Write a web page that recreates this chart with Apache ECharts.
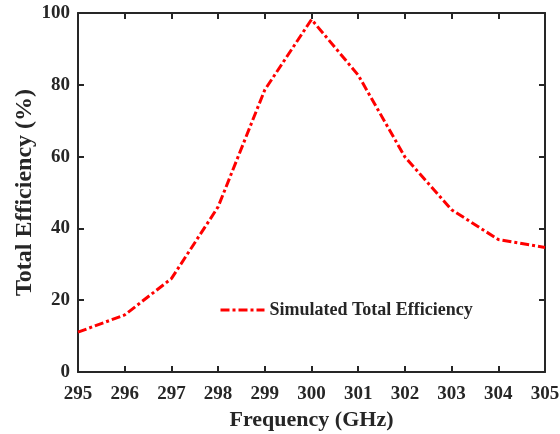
<!DOCTYPE html>
<html>
<head>
<meta charset="utf-8">
<script src="https://cdn.jsdelivr.net/npm/echarts@6/dist/echarts.min.js"></script>
<style>
  html, body { margin: 0; padding: 0; background: #fff; }
  #chart { width: 560px; height: 434px; }
</style>
</head>
<body>
<div id="chart"></div>
<script>
const frequency = [295, 296, 297, 298, 299, 300, 301, 302, 303, 304, 305]
const efficiency = [11.1, 15.9, 26, 46, 78.6, 98.2, 82.7, 59.9, 45.2, 36.9, 34.7]
const seriesName = 'Simulated Total Efficiency'

const axisColor = '#262626'
const font = 'Liberation Serif'

const chart = echarts.init(document.getElementById('chart'))

const baseX = {
  type: 'value',
  min: 295,
  max: 305,
  interval: 1,
  axisLine: { show: true, onZero: false, lineStyle: { color: axisColor, width: 2 } },
  axisTick: { show: true, inside: true, length: 6, lineStyle: { color: axisColor, width: 2 } },
  splitLine: { show: false }
}
const baseY = {
  type: 'value',
  min: 0,
  max: 100,
  interval: 20,
  axisLine: { show: true, onZero: false, lineStyle: { color: axisColor, width: 2 } },
  axisTick: { show: true, inside: true, length: 6, lineStyle: { color: axisColor, width: 2 } },
  splitLine: { show: false }
}

chart.setOption({
  animation: false,
  grid: { left: 78, right: 15, top: 13, bottom: 62, outerBoundsMode: 'none' },
  legend: {
    data: [seriesName],
    left: 214,
    top: 296,
    itemWidth: 44,
    itemHeight: 14,
    itemGap: 4,
    itemStyle: { opacity: 0 },
    lineStyle: { width: 3 },
    textStyle: { fontFamily: font, fontWeight: 'bold', fontSize: 18, color: axisColor }
  },
  xAxis: [
    {
      ...baseX,
      position: 'bottom',
      name: 'Frequency (GHz)',
      nameLocation: 'middle',
      nameGap: 37,
      nameTextStyle: { fontFamily: font, fontWeight: 'bold', fontSize: 22, color: axisColor },
      axisLabel: { fontFamily: font, fontWeight: 'bold', fontSize: 19, color: axisColor, margin: 13 }
    },
    { ...baseX, position: 'top', axisLabel: { show: false } }
  ],
  yAxis: [
    {
      ...baseY,
      position: 'left',
      name: 'Total Efficiency (%)',
      nameLocation: 'middle',
      nameGap: 41,
      nameMoveOverlap: false,
      nameTextStyle: { fontFamily: font, fontWeight: 'bold', fontSize: 24, color: axisColor },
      axisLabel: { fontFamily: font, fontWeight: 'bold', fontSize: 19, color: axisColor, margin: 8 }
    },
    { ...baseY, position: 'right', axisLabel: { show: false } }
  ],
  series: [
    {
      name: seriesName,
      type: 'line',
      data: frequency.map((f, i) => [f, efficiency[i]]),
      symbol: 'none',
      lineStyle: { color: '#ff0000', width: 3, type: [9, 3, 3, 3] },
      itemStyle: { color: '#ff0000' }
    }
  ]
})
</script>
</body>
</html>
